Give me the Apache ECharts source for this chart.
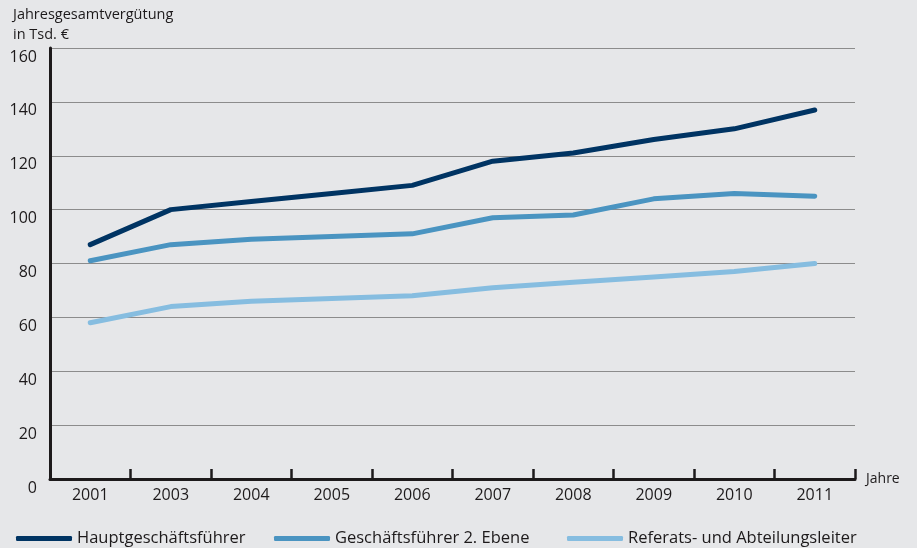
<!DOCTYPE html>
<html>
<head>
<meta charset="utf-8">
<script src="https://cdn.jsdelivr.net/npm/echarts@6/dist/echarts.min.js"></script>
<style>
  html, body { margin: 0; padding: 0; background: #e6e7e9; }
  #chart { width: 917px; height: 548px; }
</style>
</head>
<body>
<div id="chart"></div>
<script>
// Jahresgesamtvergütung in Tsd. € nach Funktionsebene
const years = ['2001', '2003', '2004', '2005', '2006', '2007', '2008', '2009', '2010', '2011'];
const hauptgf = [87, 100, 103, 106, 109, 118, 121, 126, 130, 137];
const gfZweiteEbene = [81, 87, 89, 90, 91, 97, 98, 104, 106, 105];
const referatsleiter = [58, 64, 66, 67, 68, 71, 73, 75, 77, 80];
const yTicks = [0, 20, 40, 60, 80, 100, 120, 140, 160];

const seriesNames = ['Hauptgeschäftsführer', 'Geschäftsführer 2. Ebene', 'Referats- und Abteilungsleiter'];
const seriesColors = ['#003463', '#4a94c1', '#86bde0'];
const seriesData = [hauptgf, gfZweiteEbene, referatsleiter];

const FONT = '"Open Sans", "Noto Sans", sans-serif';
const TEXT = '#1d1a1b';

const chart = echarts.init(document.getElementById('chart'), null, { renderer: 'canvas' });

const legendLefts = [11, 269, 562];

chart.setOption({
  backgroundColor: '#e6e7e9',
  animation: false,
  title: {
    text: 'Jahresgesamtvergütung\nin Tsd. €',
    left: 8,
    top: 0,
    textStyle: { fontFamily: FONT, fontSize: 14.5, fontWeight: 'normal', color: TEXT, lineHeight: 20 }
  },
  legend: seriesNames.map((name, i) => ({
    data: [name],
    left: legendLefts[i],
    top: 525,
    icon: 'roundRect',
    itemWidth: 56,
    itemHeight: 5,
    itemGap: 0,
    textStyle: { fontFamily: FONT, fontSize: 16.5, color: TEXT, padding: [0, 0, 0, 0] }
  })),
  grid: { left: 50, right: 62, top: 48, bottom: 69, containLabel: false },
  xAxis: {
    type: 'category',
    data: years,
    boundaryGap: true,
    name: 'Jahre',
    nameLocation: 'end',
    nameGap: 11,
    nameTextStyle: { fontFamily: FONT, fontSize: 14, color: TEXT, verticalAlign: 'middle', padding: [0, 0, 0, 0] },
    axisLine: { show: true, lineStyle: { color: TEXT, width: 3 } },
    axisTick: { show: true, inside: true, length: 10, lineStyle: { color: TEXT, width: 2.5 }, interval: 0 },
    axisLabel: { fontFamily: FONT, fontSize: 16, color: TEXT, margin: 8, interval: 0 },
    splitLine: { show: false }
  },
  yAxis: {
    type: 'value',
    min: yTicks[0],
    max: yTicks[yTicks.length - 1],
    interval: 20,
    axisLine: { show: true, lineStyle: { color: TEXT, width: 3 } },
    axisTick: { show: false },
    axisLabel: {
      fontFamily: FONT, fontSize: 16, color: TEXT, margin: 13,
      verticalAlign: 'top', padding: [1, 0, 0, 0]
    },
    splitLine: { show: true, lineStyle: { color: '#8c8c8c', width: 1.2 } }
  },
  series: seriesData.map((data, i) => ({
    name: seriesNames[i],
    type: 'line',
    data: data,
    color: seriesColors[i],
    symbol: 'none',
    smooth: false,
    lineStyle: { width: 5, cap: 'round', join: 'round', color: seriesColors[i] },
    z: 3 - i
  }))
});
</script>
</body>
</html>
